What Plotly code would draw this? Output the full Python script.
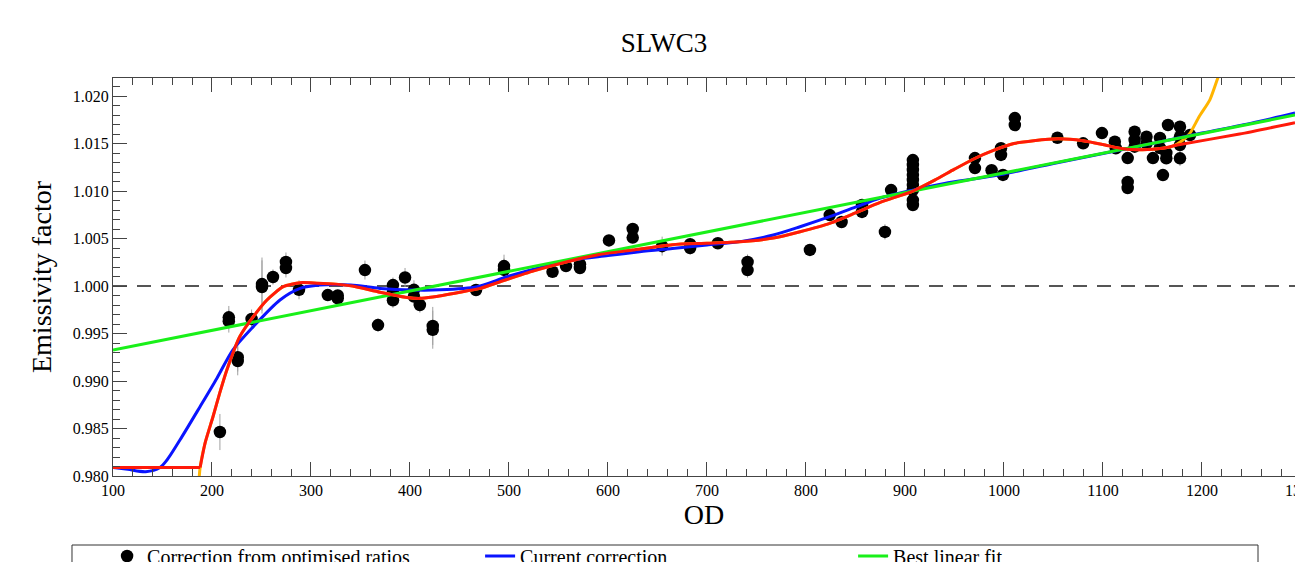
import plotly.graph_objects as go

# ---------------- data ----------------
od_points = [208, 217, 217, 226, 226, 240, 250.5, 250.5, 261.6, 274.7, 274.7, 287.9,
             317, 327, 327, 354.5, 367.7, 382.8, 382.8, 382.8, 395, 404, 404, 410,
             423, 423, 466.7, 495, 495, 544, 557.6, 571.7, 571.7, 601, 625, 625,
             654.7, 683, 683, 711, 741, 741, 804, 824, 836, 856.6, 856.6, 879.8, 886,
             908, 908, 908, 908, 908, 908, 908, 908, 908,
             970.7, 970.7, 987.5, 997, 997, 999, 1011, 1011, 1054, 1080, 1099, 1112,
             1113, 1125, 1125, 1125, 1132, 1132, 1132, 1144, 1144, 1150.5, 1157.6,
             1157.6, 1160.6, 1165.7, 1164, 1164, 1177.8, 1177.8, 1177.8, 1177.8, 1188]
factor_points = [0.98463, 0.99670, 0.99630, 0.99250, 0.99210, 0.99653, 1.00020, 0.99990,
                 1.00095, 1.00253, 1.00190, 0.99960, 0.99905, 0.99900, 0.99870, 1.00168,
                 0.99589, 1.00010, 0.99940, 0.99850, 1.00090, 0.99960, 0.99890, 0.99800,
                 0.99580, 0.99540, 0.99958, 1.00210, 1.00170, 1.00150, 1.00210, 1.00230,
                 1.00190, 1.00480, 1.00600, 1.00510, 1.00420, 1.00440, 1.00400, 1.00450,
                 1.00253, 1.00168, 1.00380, 1.00747, 1.00674, 1.00853, 1.00780, 1.00570,
                 1.01010,
                 1.01326, 1.01274, 1.01221, 1.01168, 1.01116, 1.01063, 1.01011, 1.00905, 1.00853,
                 1.01347, 1.01242, 1.01220, 1.01450, 1.01380, 1.01170, 1.01768, 1.01695,
                 1.01561, 1.01502, 1.01610, 1.01519, 1.01450, 1.01347, 1.01095, 1.01032,
                 1.01624, 1.01537, 1.01467, 1.01572, 1.01502, 1.01347, 1.01558, 1.01453,
                 1.01168, 1.01695, 1.01400, 1.01344, 1.01677, 1.01572, 1.01484, 1.01344, 1.01590]
factor_errors = [0.0019, 0.0012, 0.0012, 0.0015, 0.0015, 0.0010, 0.0028, 0.0028, 0.0008,
                 0.0010, 0.0010, 0.0010, 0.0006, 0.0006, 0.0006, 0.0010, 0.0007, 0.0008,
                 0.0008, 0.0008, 0.0010, 0.0010, 0.0010, 0.0008, 0.0020, 0.0020, 0.0005,
                 0.0012, 0.0012, 0.0005, 0.0005, 0.0005, 0.0005, 0.0006, 0.0005, 0.0005,
                 0.0010, 0.0007, 0.0007, 0.0005, 0.0008, 0.0008, 0.0004, 0.0004, 0.0004,
                 0.0005, 0.0005, 0.0008, 0.0004,
                 0.0005, 0.0005, 0.0005, 0.0005, 0.0005, 0.0005, 0.0005, 0.0005, 0.0005,
                 0.0004, 0.0004, 0.0005, 0.0006, 0.0006, 0.0006, 0.0004, 0.0004, 0.0004,
                 0.0003, 0.0003, 0.0004, 0.0004, 0.0004, 0.0004, 0.0004, 0.0004, 0.0004,
                 0.0004, 0.0004, 0.0004, 0.0004, 0.0004, 0.0004, 0.0005, 0.0004, 0.0004,
                 0.0004, 0.0005, 0.0005, 0.0005, 0.0008, 0.0004]

current_od = [100, 115, 133, 147.5, 154.5, 170, 187.9, 205, 221, 241.7, 268.7, 289, 309,
              340, 369.7, 403, 430, 467.7, 498, 530, 564.6, 600, 632, 665, 700, 735, 767,
              794, 824, 850, 875, 908, 940, 975.8, 1000, 1050, 1100, 1150, 1200, 1250, 1294]
current_factor = [0.98090, 0.98070, 0.98046, 0.98090, 0.98168, 0.98420, 0.98730, 0.99030,
                  0.99326, 0.99572, 0.99853, 0.99975, 1.00010, 1.00010, 0.99975, 0.99958,
                  0.99960, 0.99993, 1.00098, 1.00190, 1.00274, 1.00320, 1.00361, 1.00395,
                  1.00432, 1.00470, 1.00537, 1.00624, 1.00730, 1.00830, 1.00926, 1.01010,
                  1.01080, 1.01137, 1.01180, 1.01290, 1.01395, 1.01500, 1.01610, 1.01715, 1.01821]

linear_od = [100, 1294]
linear_factor = [0.99326, 1.01800]

# new correction: flat floor below the clamp point, then the smooth curve
new_floor_od = [100, 188]
new_floor_factor = [0.98090, 0.98090]
new_od = [188, 193, 201, 208, 215, 228, 241.7, 255.5, 272, 289, 306, 325, 342, 369.7,
          397, 410, 423, 450.5, 470.7, 491, 525, 558.6, 590, 625, 665, 700, 733, 767, 794,
          824, 850, 875, 908, 930, 950, 970, 990, 1010, 1030, 1055, 1080, 1100, 1120,
          1140, 1160, 1175, 1238, 1294]
new_factor = [0.98090, 0.98347, 0.98624, 0.98880, 0.99116, 0.99466, 0.99677,
              0.99853, 0.99993, 1.00035, 1.00030, 1.00020, 1.00000, 0.99935, 0.99880,
              0.99870, 0.99885, 0.99935, 0.99975, 1.00045, 1.00160, 1.00256, 1.00330,
              1.00379, 1.00435, 1.00450, 1.00465, 1.00505, 1.00572, 1.00660, 1.00770,
              1.00880, 1.01000, 1.01115, 1.01230, 1.01340, 1.01430, 1.01500, 1.01530,
              1.01550, 1.01530, 1.01490, 1.01445, 1.01435, 1.01450, 1.01484, 1.01600, 1.01720]

poly_left_od = [186.5, 188.0]
poly_left_factor = [0.97900, 0.98090]
poly_right_od = [1170, 1180, 1188, 1197, 1208, 1216, 1221]
poly_right_factor = [1.01470, 1.01530, 1.01610, 1.01780, 1.01960, 1.02190, 1.02350]

reference_level = 1.0
cut_tick_value = 1300

x_range = [100, 1294]
y_range = [0.980, 1.0219]

# ---------------- figure ----------------
serif = "Liberation Serif, Times New Roman, serif"
fig = go.Figure()

fig.add_trace(go.Scatter(
    x=od_points, y=factor_points, mode="markers",
    name="Correction from optimised ratios",
    marker=dict(color="black", size=12.5, line=dict(width=0)),
    error_y=dict(type="data", array=factor_errors, color="#a0a0a0", thickness=1, width=0),
    legendrank=1,
))

# polynomial (unclamped) curve, mostly hidden under the red one
mid = [(v, f) for v, f in zip(new_od, new_factor) if 188 < v < 1170]
poly_od = poly_left_od + [v for v, _ in mid] + poly_right_od
poly_factor = poly_left_factor + [f for _, f in mid] + poly_right_factor
fig.add_trace(go.Scatter(
    x=poly_od, y=poly_factor, mode="lines", name="Polynomial fit",
    line=dict(color="#ffb400", width=3, shape="spline", smoothing=0.6),
    legendrank=5,
))

fig.add_trace(go.Scatter(
    x=current_od, y=current_factor, mode="lines", name="Current correction",
    line=dict(color="#0a14ff", width=3, shape="spline", smoothing=0.8),
    legendrank=2,
))

fig.add_trace(go.Scatter(
    x=linear_od, y=linear_factor, mode="lines", name="Best linear fit",
    line=dict(color="#19f019", width=3),
    legendrank=3,
))

fig.add_trace(go.Scatter(
    x=new_floor_od, y=new_floor_factor, mode="lines", name="New correction",
    line=dict(color="#ff1a0a", width=3), legendgroup="new", showlegend=False,
))
fig.add_trace(go.Scatter(
    x=new_od, y=new_factor, mode="lines", name="New correction",
    line=dict(color="#ff1a0a", width=3, shape="spline", smoothing=0.6),
    legendgroup="new", legendrank=4,
))

fig.add_hline(y=reference_level, line=dict(color="#555555", width=2, dash="14px,10px"), layer="below")

axis_common = dict(
    showline=True, linecolor="#444444", linewidth=1,
    ticks="inside", ticklen=14, tickwidth=1, tickcolor="#444444",
    showgrid=False, zeroline=False,
    tickfont=dict(family=serif, size=16, color="black"),
)

fig.update_xaxes(
    range=x_range, dtick=100, tick0=0, mirror="ticks",
    minor=dict(ticks="inside", ticklen=7, dtick=20, tick0=0, tickcolor="#444444", showgrid=False),
    title=dict(text="OD", font=dict(family=serif, size=28, color="black"), standoff=6),
    **axis_common,
)
fig.update_yaxes(
    range=y_range, dtick=0.005, tick0=0.98, tickformat=".3f", mirror=False,
    minor=dict(ticks="inside", ticklen=7, dtick=0.001, tick0=0.98, tickcolor="#444444", showgrid=False),
    title=dict(text="Emissivity factor", font=dict(family=serif, size=28, color="black"), standoff=12),
    **axis_common,
)

fig.update_layout(
    width=1295, height=562,
    margin=dict(l=113, r=0, t=78, b=86, autoexpand=False),
    paper_bgcolor="white", plot_bgcolor="white",
    title=dict(text="SLWC3", font=dict(family=serif, size=27, color="black"),
               x=0.5127, xanchor="center", xref="container",
               y=0.9235, yanchor="middle", yref="container"),
    showlegend=True,
    legend=dict(orientation="h", x=-0.005, xanchor="left", y=-0.152, yanchor="top",
                font=dict(family=serif, size=20, color="black"),
                bgcolor="rgba(0,0,0,0)", borderwidth=0,
                entrywidth=328, entrywidthmode="pixels", traceorder="normal"),
)

# legend frame (the original legend box is wider than its entries)
fig.add_shape(type="rect", xref="paper", yref="paper",
              x0=-0.0347, x1=0.9687, y0=-0.1734, y1=-0.45,
              line=dict(color="#333333", width=1), fillcolor="rgba(0,0,0,0)")

# the 1300 tick label sits just past the visible edge and is cut in the original
fig.add_annotation(text=str(cut_tick_value), xref="paper", yref="paper",
                   x=(cut_tick_value - x_range[0]) / (x_range[1] - x_range[0]),
                   y=-0.037, xanchor="center", yanchor="middle", showarrow=False,
                   font=dict(family=serif, size=16, color="black"))

fig.write_html("out.html")
